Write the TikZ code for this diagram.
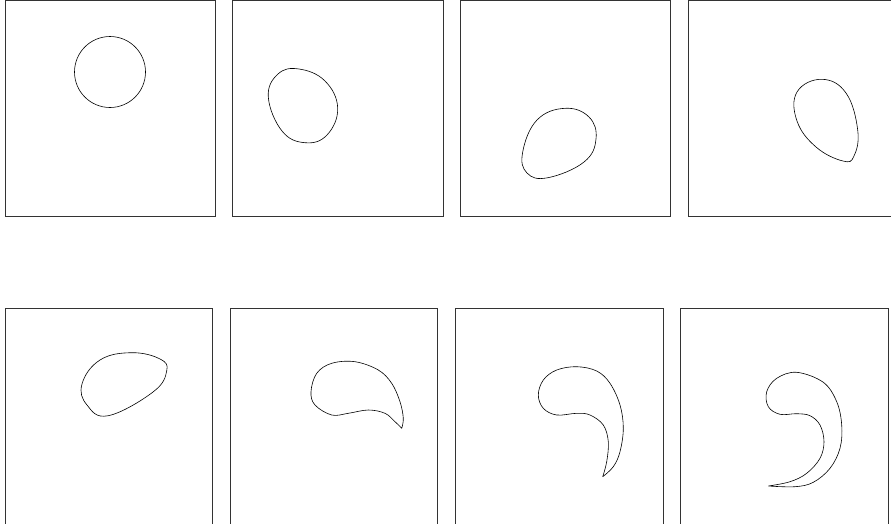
\documentclass[tikz,border=0pt]{standalone}
\usepackage{tikz}

\begin{document}
\begin{tikzpicture}[
  x=1pt,y=-1pt,
  panel/.style={draw=black!80,line width=0.75pt},
  outline/.style={draw=black,line width=0.6pt,line join=round}
]
  \clip (0,0) rectangle (891,523);
  \fill[white] (0,0) rectangle (891,523);

  \foreach \xa/\xb in {5/215.5,232.3/443,460.7/670.7,688/898}
    \draw[panel] (\xa,0) rectangle (\xb,216.7);
  \foreach \xa/\xb in {5/212.7,230/437.7,455/663,680.7/888.7}
    \draw[panel] (\xa,308) rectangle (\xb,560);

  \draw[outline] (110,72) circle (35.5);

  \draw[outline] plot[smooth cycle,tension=0.7] coordinates {
    (299,69) (325,81) (337.7,108) (327,135) (305,142.7)
    (282,131) (268.3,97) (278,74)};

  \draw[outline] plot[smooth cycle,tension=0.7] coordinates {
    (565,108.3) (589,117) (596,139) (584,162) (548,177.7)
    (527,173) (522.7,152) (537,120)};

  \draw[outline] plot[smooth cycle,tension=0.7] coordinates {
    (821.7,79.3) (846,93) (857.7,130) (854,156) (843,161)
    (816,147) (797,121) (797,92)};

  \draw[outline] plot[smooth cycle,tension=0.7] coordinates {
    (131.7,352.7) (160,359) (166.7,371) (153,392) (108.3,415.7)
    (87,405) (82,384) (100,360)};

  \draw[outline] plot[smooth,tension=0.6] coordinates {
    (401.7,428.3) (403.3,418.3) (400,401.7) (391.7,383.3) (378.3,370)
    (355,361.7) (331.7,363.3) (316.7,373.3) (311,391.7) (315,405)
    (331.7,415) (348.3,413.3) (368.3,410) (385,413.3) (395,421.7)
    (401.7,428.3)};

  \draw[outline] plot[smooth,tension=0.6] coordinates {
    (602.7,476.7) (613.3,466.7) (620,451.7) (623.3,428.3) (620,405)
    (610,383.3) (596.7,371) (576.7,366.7) (556.7,370) (543.3,380)
    (538.3,395) (543.3,408.3) (556.7,415) (576.7,413.3) (590,415)
    (603.3,425) (608.3,441.7) (606.7,461.7) (602.7,476.7)};

  \draw[outline] plot[smooth,tension=0.6] coordinates {
    (768.3,486) (795,486.7) (813.3,482.3) (830,468.3) (840,448.3)
    (841.7,425) (836.7,401.7) (823.3,382.3) (796.7,372.3) (776.7,378.3)
    (766.7,391.7) (768.3,406.7) (780,414.3) (796.7,413.7) (810,415.7)
    (820,425) (824,441.7) (820,458.3) (806.7,473.3) (790,481.7)
    (768.3,486)};
\end{tikzpicture}
\end{document}
